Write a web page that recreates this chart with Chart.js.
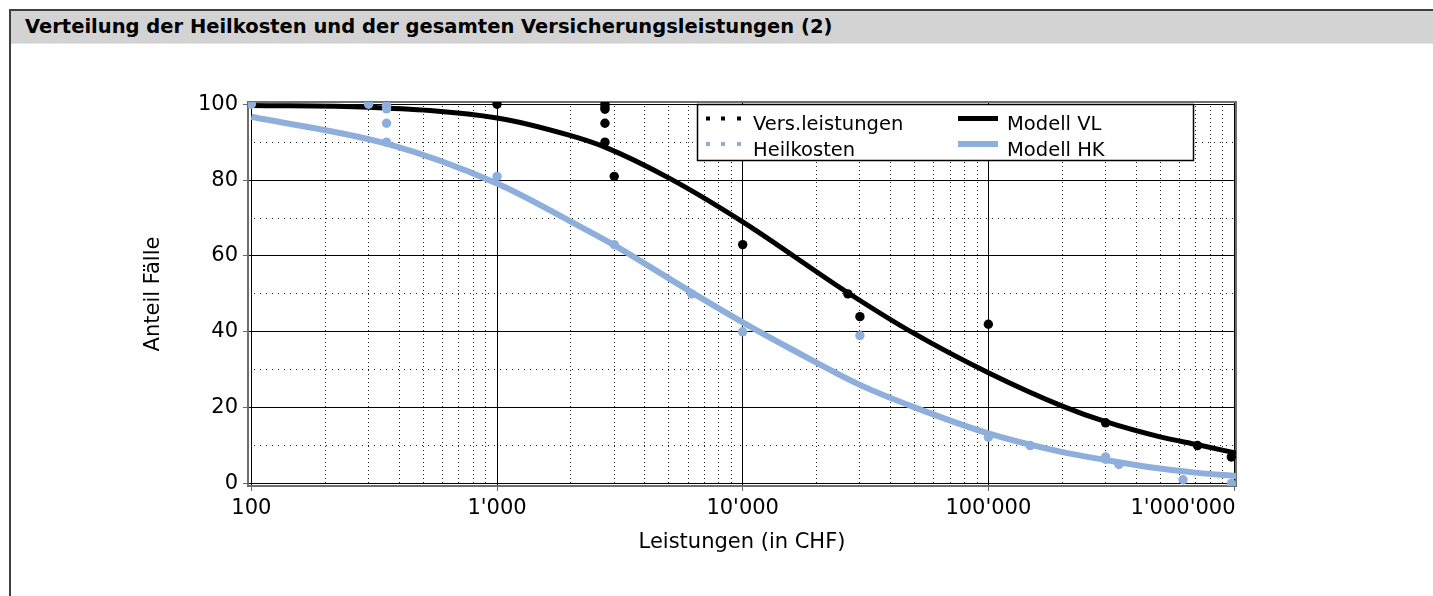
<!DOCTYPE html>
<html><head><meta charset="utf-8">
<script src="https://cdn.jsdelivr.net/npm/chart.js@4.4.1/dist/chart.umd.min.js"></script>
<style>
html,body{margin:0;padding:0;background:#fff;width:1433px;height:596px;overflow:hidden;}
#frame{position:absolute;left:9px;top:9px;width:1440px;height:600px;border-left:2px solid #404040;border-top:2px solid #404040;box-sizing:border-box;}
#titlebar{position:absolute;left:0;top:0;right:0;height:32px;background:#d3d3d3;border-bottom:1px solid #e4e4e4;font:bold 19.5px "DejaVu Sans";line-height:31px;padding-left:14px;color:#000;white-space:nowrap;}
#wrap{position:absolute;left:0;top:0;width:1433px;height:596px;}
</style></head>
<body>
<div id="frame"><div id="titlebar">Verteilung der Heilkosten und der gesamten Versicherungsleistungen (2)</div></div>
<div id="wrap"><canvas id="c" width="1433" height="596"></canvas></div>
<script>
// ---- data ----
const versX = [1000, 2750, 2750, 2750, 2750, 2750, 3000, 10000, 26800, 30000, 100000, 300000, 710000, 975000];
const versY = [100, 100, 99.3, 98.7, 95, 90, 81, 63, 50, 44, 42, 16, 10, 7];
const heilX = [100, 300, 355, 355, 355, 355, 1000, 3000, 6200, 10000, 30000, 100000, 148000, 300000, 300000, 340000, 620000, 975000];
const heilY = [100, 100, 99.7, 98.8, 95, 90, 81, 63, 50, 40, 39, 12.2, 10, 7, 6.4, 5, 1, 0];
const modelVLX = [100, 300, 1000, 1980, 2750, 5060, 10000, 26800, 50000, 100000, 200000, 300000, 500000, 713000, 1020000];
const modelVLY = [99.7, 99.2, 96.4, 91.8, 88.7, 80.4, 69.0, 50.3, 39.5, 29.2, 20.4, 16.3, 12.3, 10.2, 8.0];
const modelHKX = [100, 355, 1000, 1980, 2970, 6200, 10000, 15600, 30000, 49500, 100000, 196000, 300000, 456000, 713000, 1020000];
const modelHKY = [96.7, 89.6, 79.1, 69.2, 63.0, 50.4, 42.5, 35.6, 26.0, 20.2, 13.2, 8.4, 6.2, 4.3, 2.8, 2.0];
const seriesNames = ['Vers.leistungen', 'Heilkosten', 'Modell VL', 'Modell HK'];
const xMajor = [100, 1000, 10000, 100000, 1000000];
const xTickLabels = ["100", "1'000", "10'000", "100'000", "1'000'000"];
const yMajor = [0, 20, 40, 60, 80, 100];
const yMinor = [10, 30, 50, 70, 90];
const xMinorFactors = [2, 3, 4, 5, 6, 7, 8, 9];
const xTitle = 'Leistungen (in CHF)';
const yTitle = 'Anteil Fälle';

const X_MIN = 96.9, X_MAX = 1018700, Y_MIN = -0.66, Y_MAX = 100.6;
const BLUE = '#8eaedb';
const FONT = 'DejaVu Sans';

const zip = (xs, ys) => xs.map((x, i) => ({x: x, y: ys[i]}));
const xMinor = [];
[100, 1000, 10000, 100000].forEach(d => xMinorFactors.forEach(f => xMinor.push(d * f)));

const legendPlugin = {
  id: 'boxLegend',
  afterDraw(chart) {
    const ctx = chart.ctx;
    const ds = chart.data.datasets;
    ctx.save();
    // last x tick label, kept inside the plot width (right aligned on its tick)
    const xs = chart.scales.x;
    ctx.font = '21px "' + FONT + '"';
    ctx.fillStyle = '#000';
    ctx.textAlign = 'right';
    ctx.textBaseline = 'middle';
    ctx.fillText(xTickLabels[4], xs.getPixelForValue(xMajor[4]) + 1.5, xs.top + 5 + 5 + 12.6);
    // legend box
    ctx.textAlign = 'left';
    ctx.fillStyle = '#fff';
    ctx.fillRect(697, 104, 497, 57);
    ctx.strokeStyle = '#000';
    ctx.lineWidth = 1.5;
    ctx.strokeRect(697.5, 104.5, 496, 56);
    ctx.font = '19.5px "' + FONT + '"';
    ctx.textBaseline = 'alphabetic';
    const rows = [118.5, 144];
    [0, 1].forEach(i => {
      ctx.fillStyle = ds[i].backgroundColor;
      [708, 723, 739].forEach(x => ctx.fillRect(x - 2, rows[i] - 2, 4, 4));
      ctx.fillStyle = '#000';
      ctx.fillText(ds[i].label, 753, rows[i] + 11.5);
    });
    [2, 3].forEach((i, k) => {
      ctx.strokeStyle = ds[i].borderColor;
      ctx.lineWidth = ds[i].borderWidth;
      ctx.beginPath();
      ctx.moveTo(958, rows[k]);
      ctx.lineTo(998, rows[k]);
      ctx.stroke();
      ctx.fillStyle = '#000';
      ctx.fillText(ds[i].label, 1007, rows[k] + 11.5);
    });
    ctx.restore();
  }
};

const tickFont = {family: FONT, size: 21};
const lx = {type: 'logarithmic', min: X_MIN, max: X_MAX};
const ly = {type: 'linear', min: Y_MIN, max: Y_MAX};

new Chart(document.getElementById('c'), {
  type: 'scatter',
  data: {
    datasets: [
      {label: seriesNames[0], data: zip(versX, versY), backgroundColor: '#000', borderColor: '#000', pointRadius: 4.7, pointBorderWidth: 0, showLine: false},
      {label: seriesNames[1], data: zip(heilX, heilY), backgroundColor: BLUE, borderColor: BLUE, pointRadius: 4.7, pointBorderWidth: 0, showLine: false},
      {label: seriesNames[2], data: zip(modelVLX, modelVLY), borderColor: '#000', backgroundColor: '#000', borderWidth: 5, pointRadius: 0, showLine: true, cubicInterpolationMode: 'monotone'},
      {label: seriesNames[3], data: zip(modelHKX, modelHKY), borderColor: BLUE, backgroundColor: BLUE, borderWidth: 6, pointRadius: 0, showLine: true, cubicInterpolationMode: 'monotone'}
    ]
  },
  options: {
    responsive: false,
    animation: false,
    events: [],
    layout: {padding: {left: 132, top: 102, right: 197, bottom: 30}},
    plugins: {legend: {display: false}, tooltip: {enabled: false}, title: {display: false}},
    scales: {
      xm: Object.assign({}, lx, {
        position: 'bottom', weight: 0,
        afterBuildTicks: s => { s.ticks = xMinor.map(v => ({value: v})); },
        ticks: {display: false},
        grid: {color: '#222', lineWidth: 1, drawTicks: false},
        border: {display: false, dash: [1, 3]},
        afterFit: s => { s.height = 0; }
      }),
      x: Object.assign({}, lx, {
        position: 'bottom', weight: 1,
        afterBuildTicks: s => { s.ticks = xMajor.map(v => ({value: v})); },
        ticks: {callback: (v, i) => (i < 4 ? xTickLabels[i] : ''), font: tickFont, color: '#000', padding: 5, maxRotation: 0, autoSkip: false},
        grid: {color: '#000', lineWidth: 1, drawTicks: true, tickLength: 5, tickColor: '#666'},
        border: {display: true, color: '#6e6e6e', width: 2},
        title: {display: true, text: xTitle, font: tickFont, color: '#000', padding: {top: 4, bottom: 11}},
        afterFit: s => { s.height = 80; }
      }),
      xt: Object.assign({}, lx, {
        position: 'top',
        ticks: {display: false},
        grid: {drawOnChartArea: false, drawTicks: false},
        border: {display: true, color: '#6e6e6e', width: 2},
        afterFit: s => { s.height = 0; }
      }),
      ym: Object.assign({}, ly, {
        position: 'left', weight: 0,
        afterBuildTicks: s => { s.ticks = yMinor.map(v => ({value: v})); },
        ticks: {display: false},
        grid: {color: '#222', lineWidth: 1, drawTicks: false},
        border: {display: false, dash: [1, 5]},
        afterFit: s => { s.width = 0; }
      }),
      y: Object.assign({}, ly, {
        position: 'left', weight: 1,
        afterBuildTicks: s => { s.ticks = yMajor.map(v => ({value: v})); },
        ticks: {callback: v => String(v), font: tickFont, color: '#000', padding: 5},
        grid: {color: '#000', lineWidth: 1, drawTicks: true, tickLength: 5, tickColor: '#666'},
        border: {display: true, color: '#6e6e6e', width: 2},
        title: {display: true, text: yTitle, font: tickFont, color: '#000', padding: {top: 9, bottom: 0}},
        afterFit: s => { s.width = 116; }
      }),
      yr: Object.assign({}, ly, {
        position: 'right',
        ticks: {display: false},
        grid: {drawOnChartArea: false, drawTicks: false},
        border: {display: true, color: '#6e6e6e', width: 2},
        afterFit: s => { s.width = 0; }
      })
    }
  },
  plugins: [legendPlugin]
});
</script>
</body></html>
